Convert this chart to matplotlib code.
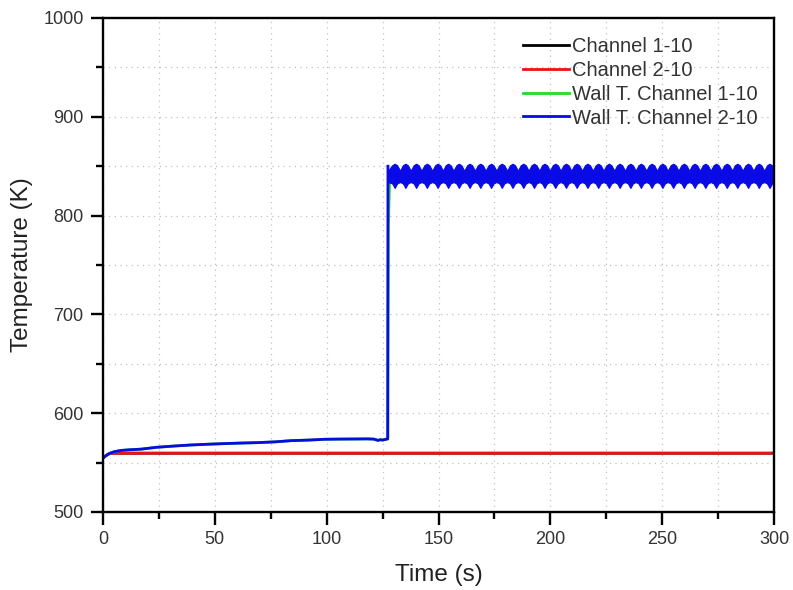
import matplotlib
matplotlib.use("Agg")
import matplotlib.pyplot as plt
from matplotlib.ticker import MultipleLocator

plt.rcParams['font.family'] = ['Liberation Sans', 'DejaVu Sans']

# Coolant channel temperatures (K)
chan_t = [0, 1, 2, 3, 4, 300]
chan1_T = [554.5, 556.5, 558.2, 559.2, 559.5, 559.5]
chan2_T = [554.5, 556.5, 558.2, 559.2, 559.5, 559.5]

# Wall temperature before the step change
wall_t = [0, 1, 2, 3, 5, 8, 12, 17, 24, 32, 39, 47, 54, 62, 69, 77, 84, 92,
          99, 106, 113, 118, 121, 123, 124, 125, 126.5, 127.3]
wall_T = [554.5, 556.5, 558.0, 559.4, 561.0, 562.3, 563.0, 563.6, 565.5, 566.8,
          567.8, 568.6, 569.2, 569.8, 570.2, 571.0, 572.2, 572.8, 573.6, 573.8,
          573.9, 574.0, 573.8, 572.5, 573.2, 572.8, 573.6, 574.0]

# Step of the wall temperature
jump1_t = [127.3, 127.6, 128.2, 300.0]
jump1_T = [574.0, 790.0, 843.0, 840.0]
jump2_t = [127.3, 127.4]
jump2_T = [574.0, 850.0]

# Oscillating wall temperature after the step: crests and notches of the band
crest_t = [130.4, 135.2, 140.0, 144.8, 149.6, 154.3, 159.1, 163.9, 168.7, 173.5,
           178.3, 183.1, 187.9, 192.7, 197.4, 202.2, 207.0, 211.8, 216.6, 221.4,
           226.2, 231.0, 235.8, 240.5, 245.3, 250.1, 254.9, 259.7, 264.5, 269.3,
           274.1, 278.9, 283.6, 288.4, 293.2, 298.0]
crest_hi, crest_lo = 852.5, 828.0          # band edges at each crest
shoulder_hi, shoulder_lo = 851.0, 832.5    # edges either side of a crest
notch_t = [127.5, 132.8, 137.6, 142.4, 147.2, 152.0, 156.7, 161.5, 166.3, 171.1,
           175.9, 180.7, 185.5, 190.3, 195.1, 199.8, 204.6, 209.4, 214.2, 219.0,
           223.8, 228.6, 233.4, 238.2, 242.9, 247.7, 252.5, 257.3, 262.1, 266.9,
           271.7, 276.5, 281.3, 286.0, 290.8, 295.6, 300.0]
notch_hi, notch_lo = 845.5, 834.0          # edges between crests
shoulder_dt = 1.1

labels = ["Channel 1-10", "Channel 2-10", "Wall T. Channel 1-10", "Wall T. Channel 2-10"]
colors = ["#000000", "#ee1111", "#22dd22", "#0a0ae6"]

pts = [(t, notch_hi, notch_lo) for t in notch_t]
for t in crest_t:
    pts += [(t - shoulder_dt, shoulder_hi, shoulder_lo),
            (t, crest_hi, crest_lo),
            (t + shoulder_dt, shoulder_hi, shoulder_lo)]
pts = sorted(p for p in pts if p[0] <= 300.0)
band_t = [p[0] for p in pts]
band_hi = [p[1] for p in pts]
band_lo = [p[2] for p in pts]

fig = plt.figure(figsize=(7.93, 5.9), dpi=100)
ax = fig.add_axes([103 / 793, 78 / 590, 671 / 793, 494 / 590])

lw = 2.0
h1, = ax.plot(chan_t, chan1_T, color=colors[0], lw=lw, label=labels[0])
h2, = ax.plot(chan_t, chan2_T, color=colors[1], lw=lw, label=labels[1])
h3, = ax.plot(wall_t + jump1_t, wall_T + jump1_T, color=colors[2], lw=lw, label=labels[2])
h4, = ax.plot(wall_t + jump2_t, wall_T + jump2_T, color=colors[3], lw=lw, label=labels[3])
ax.fill_between(band_t, band_lo, band_hi, color=colors[3], lw=0.8,
                edgecolor=colors[3], zorder=2.5)

ax.set_xlim(0, 300)
ax.set_ylim(500, 1000)
ax.xaxis.set_major_locator(MultipleLocator(50))
ax.xaxis.set_minor_locator(MultipleLocator(25))
ax.yaxis.set_major_locator(MultipleLocator(100))
ax.yaxis.set_minor_locator(MultipleLocator(50))

ax.grid(which='both', linestyle=(0, (1, 3.5)), color='#c0c0c0', linewidth=0.9)
ax.set_axisbelow(True)

for s in ax.spines.values():
    s.set_linewidth(1.7)
ax.tick_params(which='major', direction='out', length=9, width=1.7,
               labelsize=13, labelcolor='#333333', pad=5)
ax.tick_params(which='minor', direction='out', length=5, width=1.7)
ax.tick_params(top=False, right=False, which='both')

ax.set_xlabel("Time (s)", fontsize=17.5, color='#222222', labelpad=11)
ax.set_ylabel("Temperature (K)", fontsize=17.5, color='#222222', labelpad=7)

fig.legend(handles=[h1, h2, h3, h4], loc='upper left',
           bbox_to_anchor=(523 / 793, 1 - 37 / 590), frameon=False,
           fontsize=14.5, handlelength=2.3, handletextpad=0.12,
           labelspacing=0.24, borderpad=0, borderaxespad=0,
           labelcolor='#333333')

fig.savefig("out.png", dpi=100)
